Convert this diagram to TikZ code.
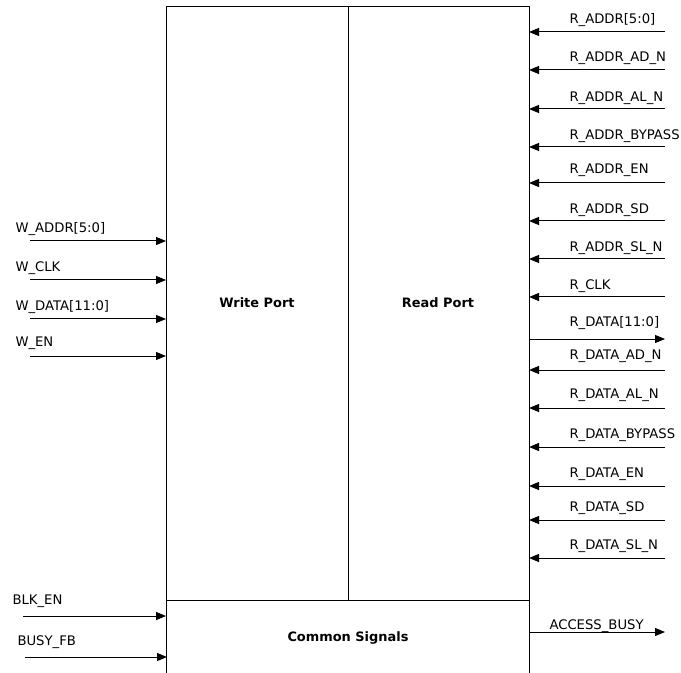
\documentclass[tikz,border=0pt]{standalone}
\usepackage{fontspec}
\setmainfont{DejaVu Sans}
\usetikzlibrary{arrows.meta}

\tikzset{every picture/.style={line width=0.75pt}}
\tikzset{
  sig/.style={-{Triangle[length=7.5pt,width=6pt]}},
  lbl/.style={anchor=west, inner sep=0pt, font=\fontsize{9.9}{11}\selectfont},
  title/.style={inner sep=0pt, font=\fontsize{9.7}{11}\selectfont\bfseries}
}

\begin{document}
\begin{tikzpicture}[x=0.75pt,y=0.75pt,yscale=-1,xscale=1]
\useasboundingbox (0,0) rectangle (681,673);

%Block corners
\coordinate (wtl) at (166,7);
\coordinate (mtop) at (348,7);
\coordinate (rtr) at (529,7);
\coordinate (wbl) at (166,600);
\coordinate (mbot) at (348,600);
\coordinate (rbr) at (529,600);
\coordinate (cbl) at (166,673);
\coordinate (cbr) at (529,673);

%Shape: Write / Read ports
\draw (wbl) -- (wtl) -- (rtr) -- (rbr) -- cycle ;
\draw (mtop) -- (mbot) ;
%Shape: Common signals
\draw (wbl) -- (cbl) ;
\draw (rbr) -- (cbr) ;

% Text Node
\node[title] (wport) at (257,303) {Write Port};
% Text Node
\node[title] (rport) at (438,303) {Read Port};
% Text Node
\node[title] (common) at (348,638) {Common Signals};

%Write port inputs
\foreach \n/\ly/\y/\t in {waddr/229/241/W\_ADDR[5:0], wclk/268/280/W\_CLK,
    wdata/307/319/W\_DATA[11:0], wen/343/356/W\_EN} {
  \coordinate (\n_s) at (30,\y);
  \coordinate (\n_e) at (166,\y);
  \draw[sig] (\n_s) -- (\n_e);
  \node[lbl] (\n) at (15,\ly) {\t};
}

%Read port inputs
\foreach \n/\ly/\y/\t in {raddr/20/32/R\_ADDR[5:0], raddrad/58/70/R\_ADDR\_AD\_N,
    raddral/98/109/R\_ADDR\_AL\_N, raddrby/136/147/R\_ADDR\_BYPASS,
    raddren/170/183/R\_ADDR\_EN, raddrsd/210/221/R\_ADDR\_SD,
    raddrsl/248/259/R\_ADDR\_SL\_N, rclk/286/297/R\_CLK,
    rdataad/356/370/R\_DATA\_AD\_N, rdataal/395/408/R\_DATA\_AL\_N,
    rdataby/435/447/R\_DATA\_BYPASS, rdataen/474/486/R\_DATA\_EN,
    rdatasd/508/520/R\_DATA\_SD, rdatasl/546/558/R\_DATA\_SL\_N} {
  \coordinate (\n_s) at (665,\y);
  \coordinate (\n_e) at (529,\y);
  \draw[sig] (\n_s) -- (\n_e);
  \node[lbl] (\n) at (569,\ly) {\t};
}

%Read data output
\coordinate (rdata_s) at (529,339);
\coordinate (rdata_e) at (665,339);
\draw[sig] (rdata_s) -- (rdata_e);
\node[lbl] (rdata) at (569,323) {R\_DATA[11:0]};

%Common signals
\coordinate (blken_s) at (23,616);
\coordinate (blken_e) at (166,616);
\draw[sig] (blken_s) -- (blken_e);
\node[lbl] (blken) at (12,601) {BLK\_EN};

\coordinate (busyfb_s) at (25,657);
\coordinate (busyfb_e) at (167,657);
\draw[sig] (busyfb_s) -- (busyfb_e);
\node[lbl] (busyfb) at (17,642) {BUSY\_FB};

\coordinate (abusy_s) at (529,632);
\coordinate (abusy_e) at (665,632);
\draw[sig] (abusy_s) -- (abusy_e);
\node[lbl] (abusy) at (549,626) {ACCESS\_BUSY};

\end{tikzpicture}
\end{document}
